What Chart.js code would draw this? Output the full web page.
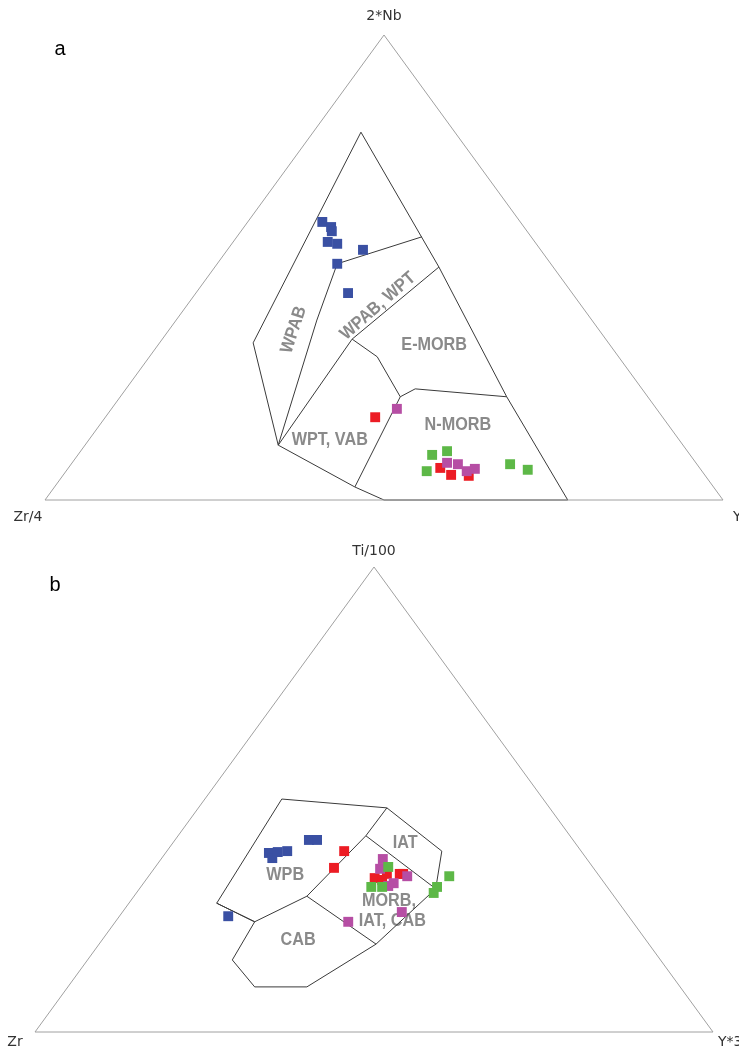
<!DOCTYPE html>
<html>
<head>
<meta charset="utf-8">
<script src="https://cdn.jsdelivr.net/npm/chart.js@4.4.0/dist/chart.umd.min.js"></script>
<style>
body{margin:0;background:#fff;width:739px;height:1052px;overflow:hidden;position:relative}
#wrapA{position:absolute;left:0;top:0;width:739px;height:530px}
#wrapB{position:absolute;left:0;top:530px;width:739px;height:522px}
</style>
</head>
<body>
<div id="wrapA"><canvas id="chartA" width="739" height="530"></canvas></div>
<div id="wrapB"><canvas id="chartB" width="739" height="522"></canvas></div>
<script>
// diagram units: x 0..100 along the base (left vertex -> right vertex), y 0..100 up to the apex
var triangle = [[0,0],[100,0],[50,100],[0,0]];

// ---- a: 2*Nb - Zr/4 - Y ----
var aFieldOutline = [[46.6,79.1],[58.1,50.1],[68.1,22.2],[77.1,0],[50.0,0],[45.7,2.8],[34.4,11.8],[30.7,33.8],[46.6,79.1]];
var aWpabSplit = [[34.4,11.8],[40.1,38.7],[43.1,50.8],[55.6,56.6]];
var aEmorbTop = [[58.1,50.1],[45.3,34.6],[34.4,11.8]];
var aEmorbLow = [[45.3,34.6],[49.0,30.8],[52.4,22.2],[54.6,23.9],[68.1,22.2]];
var aNmorbLeft = [[52.4,22.2],[45.7,2.8]];

var aFieldNames = ['WPAB','WPAB, WPT','E-MORB','N-MORB','WPT, VAB'];
var aFieldX = [36.7,49.1,57.4,60.9,42.0];
var aFieldY = [36.6,41.7,33.3,16.1,12.9];
var aFieldAngle = [-72,-41,0,0,0];

var aBlue = [[40.9,59.8],[42.2,58.7],[42.3,57.8],[41.7,55.5],[43.1,55.1],[46.9,53.8],[43.1,50.8],[44.7,44.5]];
var aRed = [[48.7,17.8],[58.3,6.9],[59.9,5.4],[62.5,5.2]];
var aMagenta = [[51.9,19.6],[59.3,8.0],[60.9,7.7],[62.2,6.2],[63.4,6.7]];
var aGreen = [[57.1,9.7],[59.3,10.5],[56.3,6.2],[68.6,7.7],[71.2,6.5]];

// ---- b: Ti/100 - Zr - Y*3 ----
var bFieldOutline = [[36.4,50.1],[51.9,48.2],[60.0,38.9],[59.1,30.8],[50.3,18.9],[40.1,9.7],[32.4,9.7],[29.1,15.5],[32.4,23.7],[26.8,27.7],[36.4,50.1]];
var bCabTop = [[26.8,27.7],[32.4,23.7],[40.1,29.2]];
var bWpbRight = [[51.9,48.2],[48.8,42.2],[40.1,29.2]];
var bIatLow = [[48.8,42.2],[59.1,30.8]];
var bCabRight = [[40.1,29.2],[50.3,18.9]];

var bFieldNames = ['IAT','WPB','MORB,','IAT, CAB','CAB'];
var bFieldX = [54.6,36.9,52.2,52.7,38.8];
var bFieldY = [40.6,33.8,28.2,23.9,19.8];

var bBlue = [[34.5,38.5],[35.0,37.4],[35.8,38.7],[37.2,38.9],[40.4,41.3],[41.6,41.3],[28.5,24.9]];
var bRed = [[45.6,38.9],[44.1,35.3],[50.1,33.1],[51.2,32.7],[51.9,34.0],[53.8,34.0],[54.3,34.0]];
var bMagenta = [[51.3,37.2],[50.9,35.1],[54.9,33.5],[52.9,32.0],[52.1,31.4],[54.1,25.8],[46.2,23.7]];
var bGreen = [[52.1,35.5],[49.6,31.2],[51.2,31.2],[59.3,31.2],[58.8,29.9],[61.1,33.5]];

var BLUE = '#3a50a3', RED = '#ec1c24', MAGENTA = '#b64ea4', GREEN = '#5db847';

function pts(arr){
    return arr.map(function(p){ return {x:p[0], y:p[1]}; });
}

function lineSet(arr, color){
    return {
        data: pts(arr), showLine: true, borderColor: color, borderWidth: 1,
        pointRadius: 0, fill: false, tension: 0, clip: false, order: 2
    };
}

function pointSet(arr, color){
    return {
        data: pts(arr), showLine: false, pointStyle: 'rect', pointRadius: 7,
        backgroundColor: color, borderColor: color, borderWidth: 0,
        clip: false, order: 0
    };
}

var labelPlugin = {
    id: 'ternLabels',
    beforeDatasetsDraw: function(chart, args, opts){
        var ctx = chart.ctx, xs = chart.scales.x, ys = chart.scales.y;
        ctx.save();
        ctx.fillStyle = '#8a8a8a';
        ctx.font = 'bold 18px "Liberation Sans", Arial, sans-serif';
        ctx.textAlign = 'center';
        ctx.textBaseline = 'middle';
        opts.names.forEach(function(n, i){
            ctx.save();
            ctx.translate(xs.getPixelForValue(opts.x[i]), ys.getPixelForValue(opts.y[i]));
            ctx.rotate((opts.angle ? opts.angle[i] : 0) * Math.PI / 180);
            ctx.scale(0.9, 1);
            ctx.fillText(n, 0, 0);
            ctx.restore();
        });
        ctx.fillStyle = '#333';
        ctx.font = '14px "DejaVu Sans", sans-serif';
        opts.corners.forEach(function(c){
            ctx.textAlign = c.align || 'center';
            ctx.fillText(c.text, xs.getPixelForValue(c.vx) + c.dx, ys.getPixelForValue(c.vy) + c.dy);
        });
        ctx.fillStyle = '#000';
        ctx.font = '20px "Liberation Sans", Arial, sans-serif';
        ctx.textAlign = 'center';
        ctx.fillText(opts.panel, chart.chartArea.left + opts.panelDx, chart.chartArea.top + opts.panelDy);
        ctx.restore();
    }
};

function makeChart(id, lines, points, pad, labels){
    var sets = [];
    points.forEach(function(p){ sets.push(pointSet(p[0], p[1])); });
    lines.forEach(function(l){ sets.push(lineSet(l[0], l[1])); });
    return new Chart(document.getElementById(id), {
        type: 'scatter',
        data: { datasets: sets },
        plugins: [labelPlugin],
        options: {
            responsive: false,
            animation: false,
            layout: { padding: pad },
            plugins: { legend: {display: false}, tooltip: {enabled: false}, ternLabels: labels },
            scales: {
                x: { type: 'linear', min: 0, max: 100, display: false },
                y: { type: 'linear', min: 0, max: 100, display: false }
            }
        }
    });
}

makeChart('chartA',
    [[triangle,'#a0a0a0'],[aFieldOutline,'#3a3a3a'],[aWpabSplit,'#3a3a3a'],[aEmorbTop,'#3a3a3a'],[aEmorbLow,'#3a3a3a'],[aNmorbLeft,'#3a3a3a']],
    [[aGreen,GREEN],[aMagenta,MAGENTA],[aRed,RED],[aBlue,BLUE]],
    {left:45, right:16, top:35, bottom:30},
    {
        names: aFieldNames, x: aFieldX, y: aFieldY, angle: aFieldAngle,
        corners: [
            {text:'2*Nb', vx:50, vy:100, dx:0, dy:-19},
            {text:'Zr/4', vx:0, vy:0, dx:-17, dy:17},
            {text:'Y', vx:100, vy:0, dx:10, dy:17, align:'left'}
        ],
        panel: 'a', panelDx: 15, panelDy: 14
    });

makeChart('chartB',
    [[triangle,'#a0a0a0'],[bFieldOutline,'#3a3a3a'],[bCabTop,'#3a3a3a'],[bWpbRight,'#3a3a3a'],[bIatLow,'#3a3a3a'],[bCabRight,'#3a3a3a']],
    [[bGreen,GREEN],[bMagenta,MAGENTA],[bRed,RED],[bBlue,BLUE]],
    {left:35, right:26, top:37, bottom:20},
    {
        names: bFieldNames, x: bFieldX, y: bFieldY,
        corners: [
            {text:'Ti/100', vx:50, vy:100, dx:0, dy:-16},
            {text:'Zr', vx:0, vy:0, dx:-20, dy:10},
            {text:'Y*3', vx:100, vy:0, dx:5, dy:10, align:'left'}
        ],
        panel: 'b', panelDx: 20, panelDy: 18
    });
</script>
</body>
</html>
